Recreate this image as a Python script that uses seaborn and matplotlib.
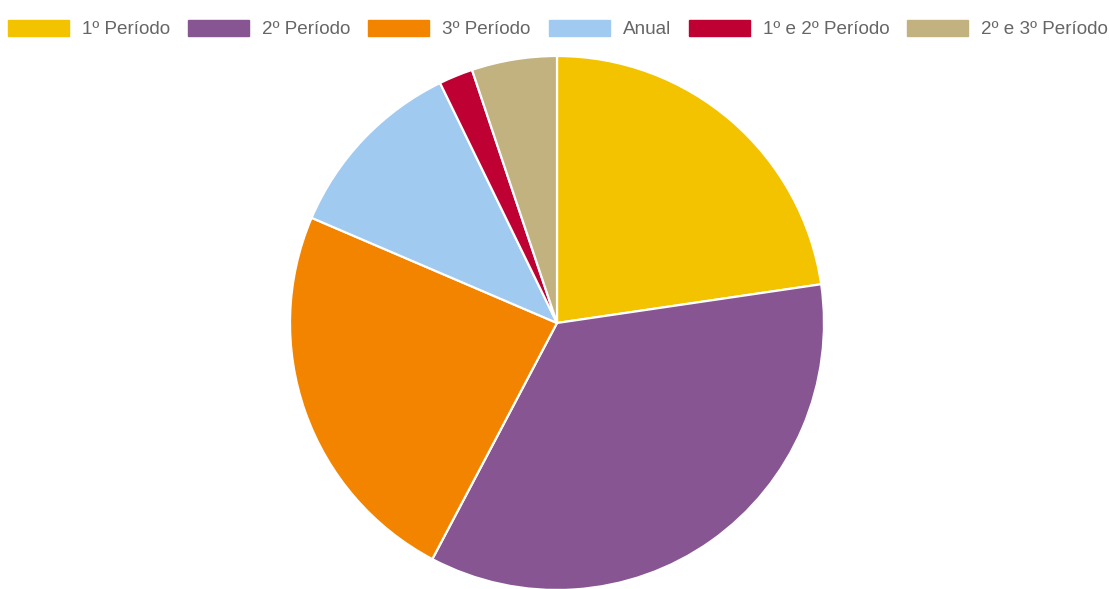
import matplotlib
matplotlib.use("Agg")
import matplotlib.pyplot as plt
import seaborn as sns
from matplotlib.patches import Patch

categories = ["1º Período", "2º Período", "3º Período", "Anual", "1º e 2º Período", "2º e 3º Período"]
values = [22, 34, 23, 11, 2, 5]
colors = ["#F3C300", "#875692", "#F38400", "#A1CAF1", "#BE0032", "#C2B280"]

sns.set_theme(style="white")
plt.rcParams['font.family'] = ['Liberation Sans', 'DejaVu Sans']

W, H = 1109, 589
fig = plt.figure(figsize=(W / 100, H / 100), dpi=100)
fig.patch.set_facecolor("white")

cx, cy, r = 557, 323, 267
ax = fig.add_axes([(cx - r) / W, (H - cy - r) / H, 2 * r / W, 2 * r / H])
palette = sns.color_palette(colors)
ax.pie(values, colors=palette, startangle=90, counterclock=False,
       wedgeprops=dict(edgecolor="white", linewidth=1.6))
ax.set_xlim(-1, 1)
ax.set_ylim(-1, 1)
ax.set_aspect("equal")
ax.axis("off")

handles = [Patch(facecolor=c, edgecolor=c) for c in palette]
fig.legend(handles, categories, loc="center", bbox_to_anchor=(558 / W, 1 - 29 / H),
           ncol=6, frameon=False, fontsize=13.6, labelcolor="#666666",
           handlelength=3.23, handleheight=0.9, handletextpad=0.69,
           columnspacing=0.95, borderpad=0, borderaxespad=0)

fig.savefig("out.png", dpi=100, facecolor="white")
